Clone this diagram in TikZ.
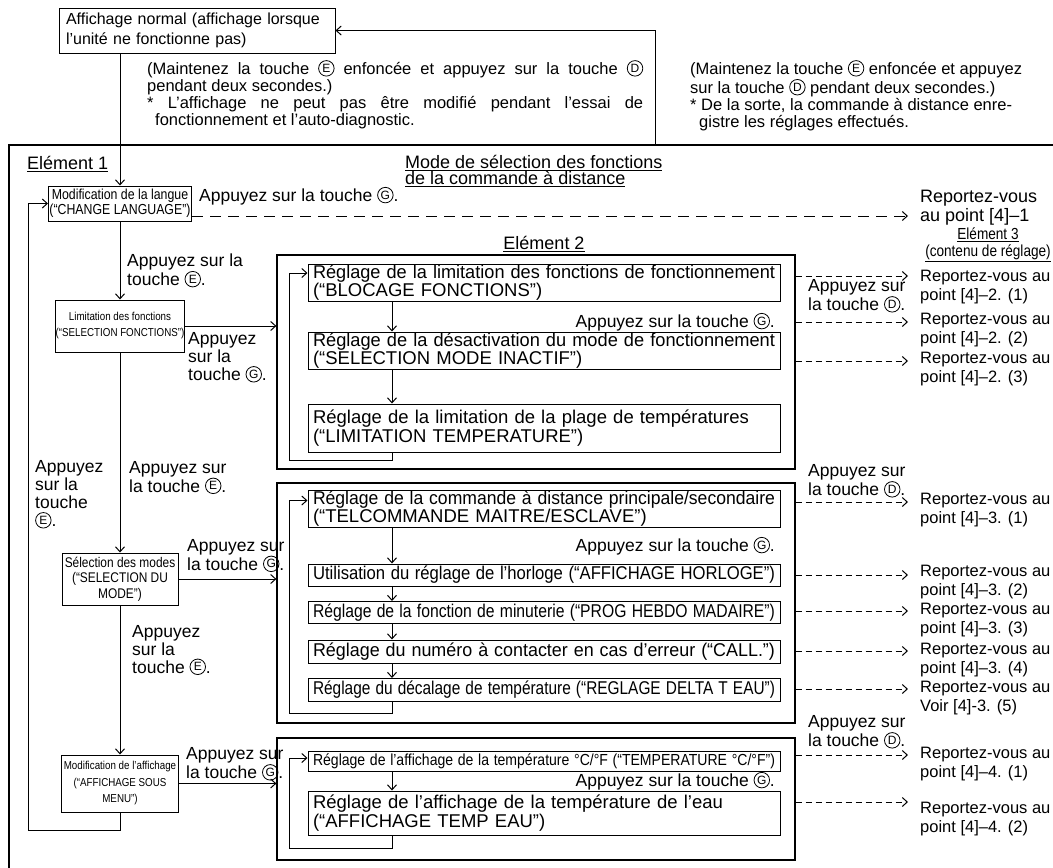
\documentclass[tikz,border=0pt]{standalone}
\usepackage{fontspec}
\usepackage{graphicx}
\setmainfont{Liberation Sans}
\newfontfamily\narrowf[FakeStretch=0.85]{Liberation Sans}
\usetikzlibrary{arrows.meta}
\newcommand\fs[2]{\fontsize{#1pt}{#2pt}\selectfont}
\newcommand\circlet[1]{\tikz[baseline=-6.3pt]\node[draw, circle, anchor=center, inner sep=0pt, minimum size=15.5pt, line width=0.8pt, align=center, font=\fs{12}{12}] at (0pt,0pt) {#1};}
\newcommand\kE{\circlet{E}}
\newcommand\kD{\circlet{D}}
\newcommand\kG{\circlet{G}}
\newsavebox\fitbx
\newcommand\fitl[1]{\sbox\fitbx{#1}\ifdim\wd\fitbx>462pt\relax\resizebox{462pt}{\height}{\usebox\fitbx}\else\makebox[462pt][s]{#1}\fi}
\tikzset{
 fr/.style={line width=1.2pt},
 frbox/.style={draw, line width=1.2pt, inner sep=0pt},
 ebox/.style={draw, line width=1pt, text width=462pt, inner xsep=5pt, inner ysep=0pt, align=left, font=\fs{18.5}{16}},
 nbox/.style={draw, line width=1pt, inner sep=0pt, align=center},
 lab/.style={inner sep=0pt, anchor=west, align=left, font=\fs{17.5}{18}},
 rlab/.style={inner sep=0pt, anchor=west, align=left, font=\fs{16.5}{19}},
 arr/.style={line width=1pt, -{Straight Barb[length=5pt,width=9pt]}},
 dl/.style={line width=1pt, dash pattern=on 6pt off 4pt, -{Straight Barb[length=5pt,width=9pt]}},
 dlong/.style={line width=1pt, dash pattern=on 11pt off 7pt, -{Straight Barb[length=5pt,width=9pt]}},
}
\begin{document}
\begin{tikzpicture}[x=1pt,y=-1pt]
\useasboundingbox (0,0) rectangle (1053,868);
\fill[white] (0,0) rectangle (1053,868);
% outer frame (cropped)
\draw[fr] (1053,145) -- (9,145) -- (9,868);
% top box and notes
\node[nbox, minimum width=276pt, minimum height=45pt, text width=262pt, align=left, font=\fs{16}{20}] (T) at (197,30.5) {Affichage normal (affichage lorsque\\l’unité ne fonctionne pas)};
\node[inner sep=0pt, anchor=north west, align=left, font=\fs{16.5}{17}] (N1) at (147,60) {\makebox[496pt][s]{(Maintenez la touche \kE\ enfoncée et appuyez sur la touche \kD}\\pendant deux secondes.)\\\makebox[496pt][s]{* L’affichage ne peut pas être modifié pendant l’essai de}\\\hspace*{8pt}fonctionnement et l’auto-diagnostic.};
\node[inner sep=0pt, anchor=north west, align=left, font=\fs{16.5}{17}] (N2) at (690,60) {(Maintenez la touche \kE\ enfoncée et appuyez\\sur la touche \kD\ pendant deux secondes.)\\\relax* De la sorte, la commande à distance enre-\\\hspace*{9pt}gistre les réglages effectués.};
\coordinate (R) at (655,145);
\draw[arr] (R) |- (T.east);
% titles
\node[lab, font=\fs{18}{18}] (E1) at (27,164) {\underline{Elément 1}};
\node[lab, font=\fs{18}{16}] (MS) at (405,171) {\underline{Mode de sélection des fonctions}\\\underline{de la commande à distance}};
\node[inner sep=0pt, font=\fs{18}{18}] (E2) at (544,244) {\underline{Elément 2}};
% left column boxes
\node[nbox, minimum width=143pt, minimum height=35pt, font=\narrowf\fs{14.5}{15}] (L) at (120,203.5) {Modification de la langue\\(“CHANGE LANGUAGE”)};
\node[nbox, minimum width=115pt, minimum height=52pt, font=\narrowf\fs{11.5}{16}] (Lim) at (120,326) {Limitation des fonctions\\(“SELECTION FONCTIONS”)};
\node[nbox, minimum width=116pt, minimum height=52pt, font=\narrowf\fs{14}{15.5}] (Sel) at (120,579) {Sélection des modes\\(“SELECTION DU\\MODE”)};
\node[nbox, minimum width=117pt, minimum height=57pt, font=\narrowf\fs{11.5}{16.5}] (Aff) at (120,783.5) {Modification de l’affichage\\(“AFFICHAGE SOUS\\MENU”)};
% element 2 frames
\node[frbox, minimum width=518pt, minimum height=214pt] (FA) at (536,362) {};
\node[frbox, minimum width=518pt, minimum height=240pt] (FB) at (536,603) {};
\node[frbox, minimum width=518pt, minimum height=122pt] (FC) at (536,799) {};
% element 2 boxes
\node[ebox, minimum height=37pt] (A1) at (544,282.5) {\fitl{Réglage de la limitation des fonctions de fonctionnement}\\(“BLOCAGE FONCTIONS”)};
\node[ebox, minimum height=37pt] (A2) at (544,350.5) {\fitl{Réglage de la désactivation du mode de fonctionnement}\\(“SELECTION MODE INACTIF”)};
\node[ebox, minimum height=48pt] (A3) at (544,428) {\makebox[462pt][s]{Réglage de la limitation de la plage de températures}\\(“LIMITATION TEMPERATURE”)};
\node[ebox, minimum height=37pt] (B1) at (544,508.5) {\fitl{Réglage de la commande à distance principale/secondaire}\\(“TELCOMMANDE MAITRE/ESCLAVE”)};
\node[ebox, minimum height=22pt] (B2) at (544,575) {\fitl{Utilisation du réglage de l’horloge (“AFFICHAGE HORLOGE”)}};
\node[ebox, minimum height=22pt] (B3) at (544,612.5) {\fitl{Réglage de la fonction de minuterie (“PROG HEBDO MADAIRE”)}};
\node[ebox, minimum height=23pt] (B4) at (544,651.5) {\fitl{Réglage du numéro à contacter en cas d’erreur (“CALL.”)}};
\node[ebox, minimum height=23pt] (B5) at (544,690) {\fitl{Réglage du décalage de température (“REGLAGE DELTA T EAU”)}};
\node[ebox, minimum height=20pt, font=\fs{16}{16}] (C1) at (544,761) {\fitl{Réglage de l’affichage de la température °C/°F (“TEMPERATURE °C/°F”)}};
\node[ebox, minimum height=44pt] (C2) at (544,813) {\makebox[462pt][s]{Réglage de l’affichage de la température de l’eau}\\(“AFFICHAGE TEMP EAU”)};
\node[lab, anchor=east] (GA) at (775,322) {Appuyez sur la touche \kG.};
\node[lab, anchor=east] (GB) at (775,546) {Appuyez sur la touche \kG.};
\node[lab, anchor=east] (GC) at (775,781) {Appuyez sur la touche \kG.};
% inner arrows
\coordinate (AX) at (392,0);
\draw[arr] (A1.south -| AX) -- (A2.north -| AX);
\draw[arr] (A2.south -| AX) -- (A3.north -| AX);
\draw[arr] (B1.south -| AX) -- (B2.north -| AX);
\draw[arr] (B2.south -| AX) -- (B3.north -| AX);
\draw[arr] (B3.south -| AX) -- (B4.north -| AX);
\draw[arr] (B4.south -| AX) -- (B5.north -| AX);
\draw[arr] (C1.south -| AX) -- (C2.north -| AX);
\coordinate (la) at (289,460);
\coordinate (lb) at (289,713);
\coordinate (lc) at (289,848);
\draw[arr] (A3.south -| AX) |- (la) |- ([yshift=9.5pt]A1.west);
\draw[arr] (B5.south -| AX) |- (lb) |- ([yshift=8pt]B1.west);
\draw[arr] (C2.south -| AX) |- (lc) |- ([yshift=3pt]C1.west);
% left flow
\draw[arr] (T.south -| L.north) -- (L.north);
\draw[arr] (L.south) -- (Lim.north);
\draw[arr] (Lim.south) -- (Sel.north);
\draw[arr] (Sel.south) -- (Aff.north);
\coordinate (lp) at (28,830);
\draw[arr] (Aff.south) |- (lp) |- (L.west);
\draw[arr] (Lim.east) -- (Lim.east -| FA.west);
\draw[arr] (Sel.east) -- (Sel.east -| FB.west);
\draw[arr] (Aff.east) -- (Aff.east -| FC.west);
% left labels
\node[lab] (k0) at (199,196) {Appuyez sur la touche \kG.};
\node[lab] (k1) at (127,270.5) {Appuyez sur la\\touche \kE.};
\node[lab] (k2) at (188,357.5) {Appuyez\\sur la\\touche \kG.};
\node[lab] (k3) at (35,494.5) {Appuyez\\sur la\\touche\\\kE.};
\node[lab] (k4) at (129,477.5) {Appuyez sur\\la touche \kE.};
\node[lab] (k5) at (187,555.5) {Appuyez sur\\la touche \kG.};
\node[lab] (k6) at (132,650) {Appuyez\\sur la\\touche \kE.};
\node[lab] (k7) at (186,764) {Appuyez sur\\la touche \kG.};
% right side
\node[lab] (kd1) at (808,296) {Appuyez sur\\la touche \kD.};
\node[lab] (kd2) at (808,481) {Appuyez sur\\la touche \kD.};
\node[lab] (kd3) at (808,732) {Appuyez sur\\la touche \kD.};
\node[rlab, font=\fs{18}{19}] (R0) at (920,207.5) {Reportez-vous\\au point [4]–1};
\node[inner sep=0pt, font=\narrowf\fs{16}{16}] (E3) at (988,235) {\underline{Elément 3}};
\node[inner sep=0pt, font=\narrowf\fs{16}{16}] (CT) at (988,253) {\underline{(contenu de réglage)}};
\node[rlab] (R21) at (920,287) {Reportez-vous au\\point [4]–2. (1)};
\node[rlab] (R22) at (920,330) {Reportez-vous au\\point [4]–2. (2)};
\node[rlab] (R23) at (920,369) {Reportez-vous au\\point [4]–2. (3)};
\node[rlab] (R31) at (920,510) {Reportez-vous au\\point [4]–3. (1)};
\node[rlab] (R32) at (920,582.5) {Reportez-vous au\\point [4]–3. (2)};
\node[rlab] (R33) at (920,620) {Reportez-vous au\\point [4]–3. (3)};
\node[rlab] (R34) at (920,660) {Reportez-vous au\\point [4]–3. (4)};
\node[rlab] (R35) at (920,698) {Reportez-vous au\\Voir [4]-3. (5)};
\node[rlab] (R41) at (920,764) {Reportez-vous au\\point [4]–4. (1)};
\node[rlab] (R42) at (920,819) {Reportez-vous au\\point [4]–4. (2)};
% dashed connectors
\coordinate (d1) at (908,216);
\draw[dlong] (L.east |- d1) -- (d1);
\coordinate (d21) at (908,276);
\coordinate (d22) at (908,322);
\coordinate (d23) at (908,361);
\coordinate (d31) at (908,502);
\coordinate (d32) at (908,575);
\coordinate (d33) at (908,611);
\coordinate (d34) at (908,651);
\coordinate (d35) at (908,689);
\coordinate (d41) at (908,755);
\coordinate (d42) at (908,802);
\foreach \d in {d21,d22,d23} \draw[dl] (FA.east |- \d) -- (\d);
\foreach \d in {d31,d32,d33,d34,d35} \draw[dl] (FB.east |- \d) -- (\d);
\foreach \d in {d41,d42} \draw[dl] (FC.east |- \d) -- (\d);
\end{tikzpicture}
\end{document}
